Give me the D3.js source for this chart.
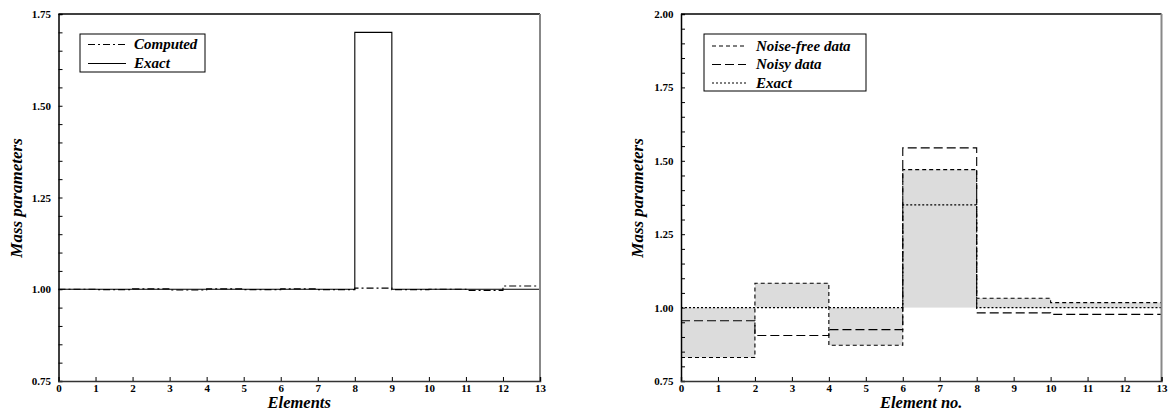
<!DOCTYPE html>
<html><head><meta charset="utf-8">
<script src="https://cdn.jsdelivr.net/npm/d3@7"></script>
<style>html,body{margin:0;padding:0;background:#fff;}svg{display:block;}</style>
</head><body>
<svg id="c" width="1171" height="412"></svg>
<script>
// ---- Data ----
const leftBounds = [0,1,2,3,4,5,6,7,8,9,10,11,12,13];
const leftComputed = [1.000, 0.999, 1.001, 0.998, 1.001, 0.999, 1.001, 0.999, 1.003, 0.999, 1.000, 0.997, 1.009];
const leftExact    = [1.00, 1.00, 1.00, 1.00, 1.00, 1.00, 1.00, 1.00, 1.70, 1.00, 1.00, 1.00, 1.00];

const rightBounds = [0, 2, 4, 6, 8, 10, 13];
const noiseFree = [0.830, 1.083, 0.872, 1.470, 1.032, 1.017];
const noisy     = [0.955, 0.905, 0.925, 1.544, 0.982, 0.977];
const exactR    = [1.00, 1.00, 1.00, 1.35, 1.00, 1.00];

const xTicks = [0,1,2,3,4,5,6,7,8,9,10,11,12,13];
const leftYTicks = [0.75, 1.00, 1.25, 1.50, 1.75];
const rightYTicks = [0.75, 1.00, 1.25, 1.50, 1.75, 2.00];

const leftLegend = [{label:"Computed", dash:"7,3,2,3"}, {label:"Exact", dash:null}];
const rightLegend = [{label:"Noise-free data", dash:"4,3"}, {label:"Noisy data", dash:"9,4"}, {label:"Exact", dash:"2,2"}];

// ---- Drawing ----
const svg = d3.select("#c");
const FONT = "'Liberation Serif', 'Times New Roman', serif";

function stepPts(bounds, vals){
  const p = vals.map((v,i)=>[bounds[i], v]);
  p.push([bounds[bounds.length-1], vals[vals.length-1]]);
  return p;
}

function panel(opt){
  const g = svg.append("g");
  const x = d3.scaleLinear().domain([0,13]).range([opt.x0, opt.x1]);
  const y = d3.scaleLinear().domain(opt.yDomain).range([381, 14]);

  if (opt.shade) opt.shade(g, x, y);

  const line = d3.line().x(d=>x(d[0])).y(d=>y(d[1])).curve(d3.curveStepAfter);
  opt.series.forEach(s=>{
    g.append("path").attr("d", line(stepPts(s.bounds, s.vals)))
      .attr("fill","none").attr("stroke","#000").attr("stroke-width",1.1)
      .attr("stroke-dasharray", s.dash);
  });

  // frame: top and right
  g.append("line").attr("x1",x(0)).attr("x2",x(13)).attr("y1",y.range()[1]).attr("y2",y.range()[1])
    .attr("stroke","#000").attr("stroke-width",1.5);
  g.append("line").attr("x1",x(13)).attr("x2",x(13)).attr("y1",y.range()[1]).attr("y2",y.range()[0])
    .attr("stroke","#888").attr("stroke-width",2);

  // y axis
  const yMinor = d3.range(Math.round(opt.yDomain[0]*100), Math.round(opt.yDomain[1]*100)+1, 5).map(v=>v/100);
  const ya = g.append("g").attr("transform",`translate(${x(0)},0)`)
    .call(d3.axisLeft(y).tickValues(yMinor).tickSize(-4).tickPadding(7.5)
      .tickFormat(v=> opt.yTicks.some(t=>Math.abs(t-v)<1e-6) ? d3.format(".2f")(v) : ""));
  // x axis
  const xa = g.append("g").attr("transform",`translate(0,${y.range()[0]})`)
    .call(d3.axisBottom(x).tickValues(xTicks).tickSize(-4).tickPadding(3).tickFormat(d3.format("d")));
  [ya, xa].forEach(a=>{
    a.select(".domain").attr("stroke","#000").attr("stroke-width",1.5);
    a.selectAll(".tick line").attr("stroke","#000").attr("stroke-width",1);
    a.selectAll("text").attr("font-family",FONT).attr("font-weight","bold").attr("font-size","11px").attr("fill","#000");
  });
  xa.select(".domain").attr("stroke","#333");

  // axis titles
  g.append("text").attr("x", (x(0)+x(13))/2).attr("y", 408).attr("text-anchor","middle")
    .attr("font-family",FONT).attr("font-weight","bold").attr("font-style","italic").attr("font-size","16.5px")
    .text(opt.xTitle);
  g.append("text").attr("transform",`translate(${opt.yTitleX},198) rotate(-90)`).attr("text-anchor","middle")
    .attr("font-family",FONT).attr("font-weight","bold").attr("font-style","italic").attr("font-size","17px")
    .text("Mass parameters");

  // legend
  const L = opt.legend;
  g.append("rect").attr("x",L.x).attr("y",L.y).attr("width",L.w).attr("height",L.h)
    .attr("fill","#fff").attr("stroke","#000").attr("stroke-width",1);
  L.items.forEach((it,i)=>{
    const ly = L.firstY + i*L.step;
    g.append("line").attr("x1",L.x+8).attr("x2",L.x+L.lineLen).attr("y1",ly).attr("y2",ly)
      .attr("stroke","#000").attr("stroke-width",1.1).attr("stroke-dasharray", it.dash);
    g.append("text").attr("x",L.x+L.textX).attr("y",ly+4.5)
      .attr("font-family",FONT).attr("font-weight","bold").attr("font-style","italic").attr("font-size","15px")
      .text(it.label);
  });
}

panel({
  x0:58.5, x1:540, yDomain:[0.75,1.75], yTicks:leftYTicks,
  series:[
    {bounds:leftBounds, vals:leftExact, dash:null},
    {bounds:leftBounds, vals:leftComputed, dash:"7,3,2,3"}
  ],
  xTitle:"Elements", yTitleX:22,
  legend:{x:80, y:34, w:125, h:38, firstY:44.5, step:19, lineLen:46, textX:54, items:leftLegend}
});

panel({
  x0:681, x1:1161.5, yDomain:[0.75,2.0], yTicks:rightYTicks,
  shade:(g,x,y)=>{
    g.selectAll("rect.sh").data(noiseFree).join("rect").attr("class","sh")
      .attr("x",(d,i)=>x(rightBounds[i])).attr("width",(d,i)=>x(rightBounds[i+1])-x(rightBounds[i]))
      .attr("y",d=>Math.min(y(d),y(1))).attr("height",d=>Math.abs(y(d)-y(1)))
      .attr("fill","#dcdcdc");
  },
  series:[
    {bounds:rightBounds, vals:exactR, dash:"2,2"},
    {bounds:rightBounds, vals:noisy, dash:"9,4"},
    {bounds:rightBounds, vals:noiseFree, dash:"4,3"}
  ],
  xTitle:"Element no.", yTitleX:643,
  legend:{x:704, y:34, w:162, h:57, firstY:46, step:18.5, lineLen:42, textX:52, items:rightLegend}
});
</script>
</body></html>
